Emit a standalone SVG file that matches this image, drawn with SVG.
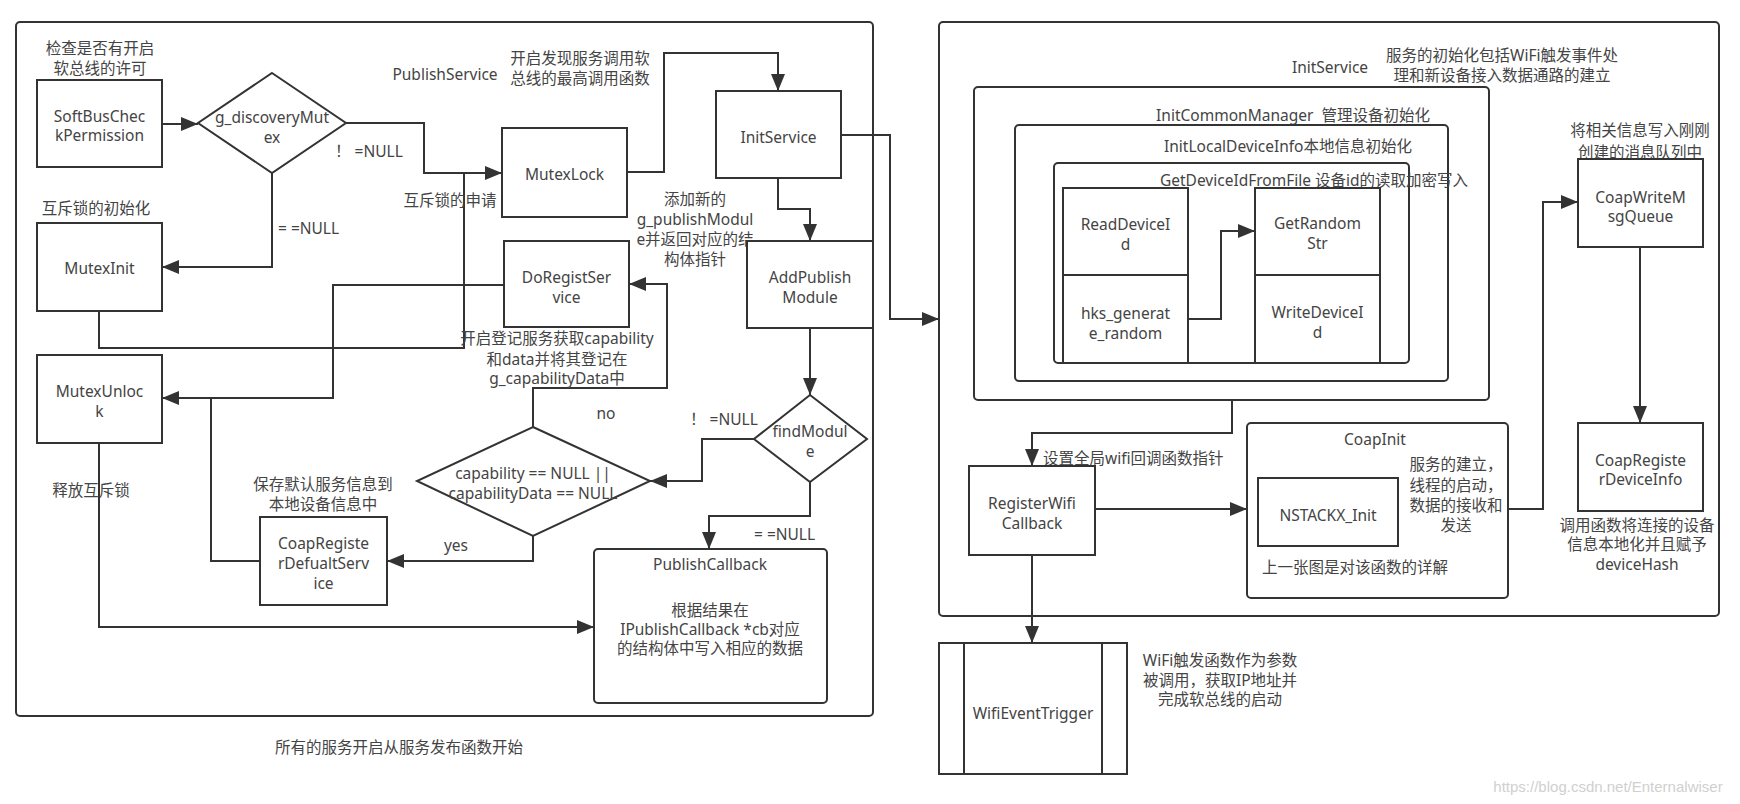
<svg xmlns="http://www.w3.org/2000/svg" width="1740" height="804" viewBox="0 0 1740 804">
<style>
.bg{fill:#fff}
.box{fill:#fff;stroke:#333;stroke-width:2}
.cont{fill:none;stroke:#333;stroke-width:2}
.ln{fill:none;stroke:#333;stroke-width:2}
.t{font-family:"Noto Sans","Noto Sans CJK SC",sans-serif;font-size:15.5px;fill:#444;text-anchor:middle;dominant-baseline:central}
.s{text-anchor:start}
.wm{font-family:"Liberation Sans",sans-serif;font-size:15px;fill:#d0d0d0;text-anchor:middle;dominant-baseline:central}
</style>
<defs>
<marker id="ah" markerUnits="userSpaceOnUse" markerWidth="18" markerHeight="14" refX="17" refY="7" orient="auto">
<path d="M0,0 L17,7 L0,14 z" fill="#333"/>
</marker>
</defs>
<rect class="bg" x="0" y="0" width="1740" height="804"/>

<g id="left-container">
<rect class="cont" x="16" y="22" width="857" height="694" rx="4"/>
<text class="t" x="399" y="747">所有的服务开启从服务发布函数开始</text>
</g>
<g id="right-container">
<rect class="cont" x="939" y="22" width="780" height="594" rx="4"/>
<text class="t" x="1330" y="67">InitService</text>
<text class="t" x="1502" y="55">服务的初始化包括WiFi触发事件处</text>
<text class="t" x="1502" y="75">理和新设备接入数据通路的建立</text>
</g>

<g id="connectors">
<path class="ln" d="M162,124 H198" marker-end="url(#ah)"/>
<path class="ln" d="M346,123 H424 V173 H502" marker-end="url(#ah)"/>
<path class="ln" d="M272,173 V267 H162" marker-end="url(#ah)"/>
<path class="ln" d="M99,311 V348 H464 V173"/>
<path class="ln" d="M627,172 H664 V53 H778 V91" marker-end="url(#ah)"/>
<path class="ln" d="M841,135 H890 V319 H939" marker-end="url(#ah)"/>
<path class="ln" d="M778,178 V209 H810 V241" marker-end="url(#ah)"/>
<path class="ln" d="M810,328 V395" marker-end="url(#ah)"/>
<path class="ln" d="M754,439 H702 V481 H650" marker-end="url(#ah)"/>
<path class="ln" d="M810,482 V516 H709 V549" marker-end="url(#ah)"/>
<path class="ln" d="M533,427 V388 H667 V284 H629" marker-end="url(#ah)"/>
<path class="ln" d="M533,536 V561 H387" marker-end="url(#ah)"/>
<path class="ln" d="M260,561 H211 V398 H162" marker-end="url(#ah)"/>
<path class="ln" d="M504,285 H333 V398 H211"/>
<path class="ln" d="M99,443 V627 H594" marker-end="url(#ah)"/>
<path class="ln" d="M1232,400 V433 H1032 V466" marker-end="url(#ah)"/>
<path class="ln" d="M1188,319 H1221 V231 H1255" marker-end="url(#ah)"/>
<path class="ln" d="M1095,509 H1247" marker-end="url(#ah)"/>
<path class="ln" d="M1508,509 H1543 V202 H1578" marker-end="url(#ah)"/>
<path class="ln" d="M1640,247 V423" marker-end="url(#ah)"/>
<path class="ln" d="M1032,555 V643" marker-end="url(#ah)"/>
</g>

<g id="edge-labels">
<text class="t s" x="335" y="151">！ =NULL</text>
<text class="t s" x="278" y="228">= =NULL</text>
<text class="t s" x="690" y="419">！ =NULL</text>
<text class="t s" x="754" y="534">= =NULL</text>
<text class="t" x="606" y="413">no</text>
<text class="t" x="456" y="545">yes</text>
<text class="t s" x="1043" y="458">设置全局wifi回调函数指针</text>
</g>

<g id="SoftBusCheckPermission">
<text class="t" x="100" y="48">检查是否有开启</text>
<text class="t" x="100" y="68">软总线的许可</text>
<rect class="box" x="37" y="80" width="125" height="87"/>
<text class="t" x="99.5" y="116">SoftBusChec</text>
<text class="t" x="99.5" y="135">kPermission</text>
</g>
<g id="g_discoveryMutex">
<polygon class="box" points="272,73 346,123 272,173 198,123"/>
<text class="t" x="272" y="117">g_discoveryMut</text>
<text class="t" x="272" y="137">ex</text>
</g>
<g id="MutexInit">
<text class="t" x="96" y="208">互斥锁的初始化</text>
<rect class="box" x="37" y="223" width="125" height="88"/>
<text class="t" x="99.5" y="268">MutexInit</text>
</g>
<g id="MutexLock">
<text class="t" x="445" y="74">PublishService</text>
<text class="t" x="580" y="58">开启发现服务调用软</text>
<text class="t" x="580" y="78">总线的最高调用函数</text>
<text class="t" x="450" y="200">互斥锁的申请</text>
<rect class="box" x="502" y="128" width="125" height="89"/>
<text class="t" x="564.5" y="174">MutexLock</text>
</g>
<g id="InitService">
<rect class="box" x="716" y="91" width="125" height="87"/>
<text class="t" x="778.5" y="137">InitService</text>
</g>
<g id="AddPublishModule">
<text class="t" x="695" y="199">添加新的</text>
<text class="t" x="695" y="219">g_publishModul</text>
<text class="t" x="695" y="239">e并返回对应的结</text>
<text class="t" x="695" y="259">构体指针</text>
<rect class="box" x="747" y="241" width="126" height="87"/>
<text class="t" x="810" y="277">AddPublish</text>
<text class="t" x="810" y="297">Module</text>
</g>
<g id="DoRegistService">
<rect class="box" x="504" y="241" width="125" height="86"/>
<text class="t" x="566.5" y="277">DoRegistSer</text>
<text class="t" x="566.5" y="297">vice</text>
<text class="t" x="557" y="338">开启登记服务获取capability</text>
<text class="t" x="557" y="359">和data并将其登记在</text>
<text class="t" x="557" y="378">g_capabilityData中</text>
</g>
<g id="findModule">
<polygon class="box" points="810,395 867,439 810,482 754,439"/>
<text class="t" x="810" y="431">findModul</text>
<text class="t" x="810" y="451">e</text>
</g>
<g id="capabilityCheck">
<polygon class="box" points="533,427 650,481 533,536 417,481"/>
<text class="t" x="533" y="473">capability == NULL ||</text>
<text class="t" x="533" y="493">capabilityData == NULL</text>
</g>
<g id="MutexUnlock">
<rect class="box" x="37" y="355" width="125" height="88"/>
<text class="t" x="99.5" y="391">MutexUnloc</text>
<text class="t" x="99.5" y="411">k</text>
<text class="t" x="91" y="490">释放互斥锁</text>
</g>
<g id="CoapRegisterDefualtService">
<text class="t" x="323" y="484">保存默认服务信息到</text>
<text class="t" x="323" y="504">本地设备信息中</text>
<rect class="box" x="260" y="517" width="127" height="88"/>
<text class="t" x="323.5" y="543">CoapRegiste</text>
<text class="t" x="323.5" y="563">rDefualtServ</text>
<text class="t" x="323.5" y="583">ice</text>
</g>
<g id="PublishCallback">
<rect class="box" x="594" y="549" width="233" height="154" rx="4"/>
<text class="t" x="710" y="564">PublishCallback</text>
<text class="t" x="710" y="610">根据结果在</text>
<text class="t" x="710" y="629">IPublishCallback *cb对应</text>
<text class="t" x="710" y="648">的结构体中写入相应的数据</text>
</g>

<g id="InitCommonManager">
<rect class="cont" x="974" y="87" width="515" height="313" rx="4"/>
<text class="t" x="1293" y="115">InitCommonManager&#160; 管理设备初始化</text>
</g>
<g id="InitLocalDeviceInfo">
<rect class="cont" x="1015" y="125" width="433" height="256" rx="4"/>
<text class="t" x="1288" y="146">InitLocalDeviceInfo本地信息初始化</text>
</g>
<g id="GetDeviceIdFromFile">
<rect class="cont" x="1054" y="163" width="355" height="200" rx="4"/>
<text class="t" x="1314" y="180">GetDeviceIdFromFile 设备id的读取加密写入</text>
</g>
<g id="ReadDeviceId">
<rect class="box" x="1063" y="188" width="125" height="87"/>
<text class="t" x="1125.5" y="224">ReadDeviceI</text>
<text class="t" x="1125.5" y="244">d</text>
</g>
<g id="hks_generate_random">
<rect class="box" x="1063" y="275" width="125" height="88"/>
<text class="t" x="1125.5" y="313">hks_generat</text>
<text class="t" x="1125.5" y="333">e_random</text>
</g>
<g id="GetRandomStr">
<rect class="box" x="1255" y="188" width="125" height="87"/>
<text class="t" x="1317.5" y="223">GetRandom</text>
<text class="t" x="1317.5" y="243">Str</text>
</g>
<g id="WriteDeviceId">
<rect class="box" x="1255" y="275" width="125" height="88"/>
<text class="t" x="1317.5" y="312">WriteDeviceI</text>
<text class="t" x="1317.5" y="332">d</text>
</g>
<g id="RegisterWifiCallback">
<rect class="box" x="969" y="466" width="126" height="89"/>
<text class="t" x="1032" y="503">RegisterWifi</text>
<text class="t" x="1032" y="523">Callback</text>
</g>
<g id="CoapInit">
<rect class="cont" x="1247" y="423" width="261" height="175" rx="4"/>
<text class="t" x="1375" y="439">CoapInit</text>
<text class="t" x="1456" y="464">服务的建立，</text>
<text class="t" x="1456" y="485">线程的启动，</text>
<text class="t" x="1456" y="505">数据的接收和</text>
<text class="t" x="1456" y="525">发送</text>
<text class="t s" x="1262" y="567">上一张图是对该函数的详解</text>
</g>
<g id="NSTACKX_Init">
<rect class="box" x="1258" y="478" width="140" height="68"/>
<text class="t" x="1328" y="515">NSTACKX_Init</text>
</g>
<g id="CoapWriteMsgQueue">
<text class="t" x="1640" y="130">将相关信息写入刚刚</text>
<text class="t" x="1640" y="152">创建的消息队列中</text>
<rect class="box" x="1578" y="159" width="125" height="88"/>
<text class="t" x="1640.5" y="197">CoapWriteM</text>
<text class="t" x="1640.5" y="216">sgQueue</text>
</g>
<g id="CoapRegisterDeviceInfo">
<rect class="box" x="1578" y="423" width="125" height="88"/>
<text class="t" x="1640.5" y="460">CoapRegiste</text>
<text class="t" x="1640.5" y="479">rDeviceInfo</text>
<text class="t" x="1637" y="525">调用函数将连接的设备</text>
<text class="t" x="1637" y="544">信息本地化并且赋予</text>
<text class="t" x="1637" y="564">deviceHash</text>
</g>
<g id="WifiEventTrigger">
<rect class="box" x="939" y="643" width="188" height="131"/>
<line class="ln" x1="964" y1="643" x2="964" y2="774"/>
<line class="ln" x1="1102" y1="643" x2="1102" y2="774"/>
<text class="t" x="1033" y="713">WifiEventTrigger</text>
<text class="t" x="1220" y="660">WiFi触发函数作为参数</text>
<text class="t" x="1220" y="680">被调用，获取IP地址并</text>
<text class="t" x="1220" y="699">完成软总线的启动</text>
</g>
<text class="wm" x="1608" y="786">https://blog.csdn.net/Enternalwiser</text>
</svg>
